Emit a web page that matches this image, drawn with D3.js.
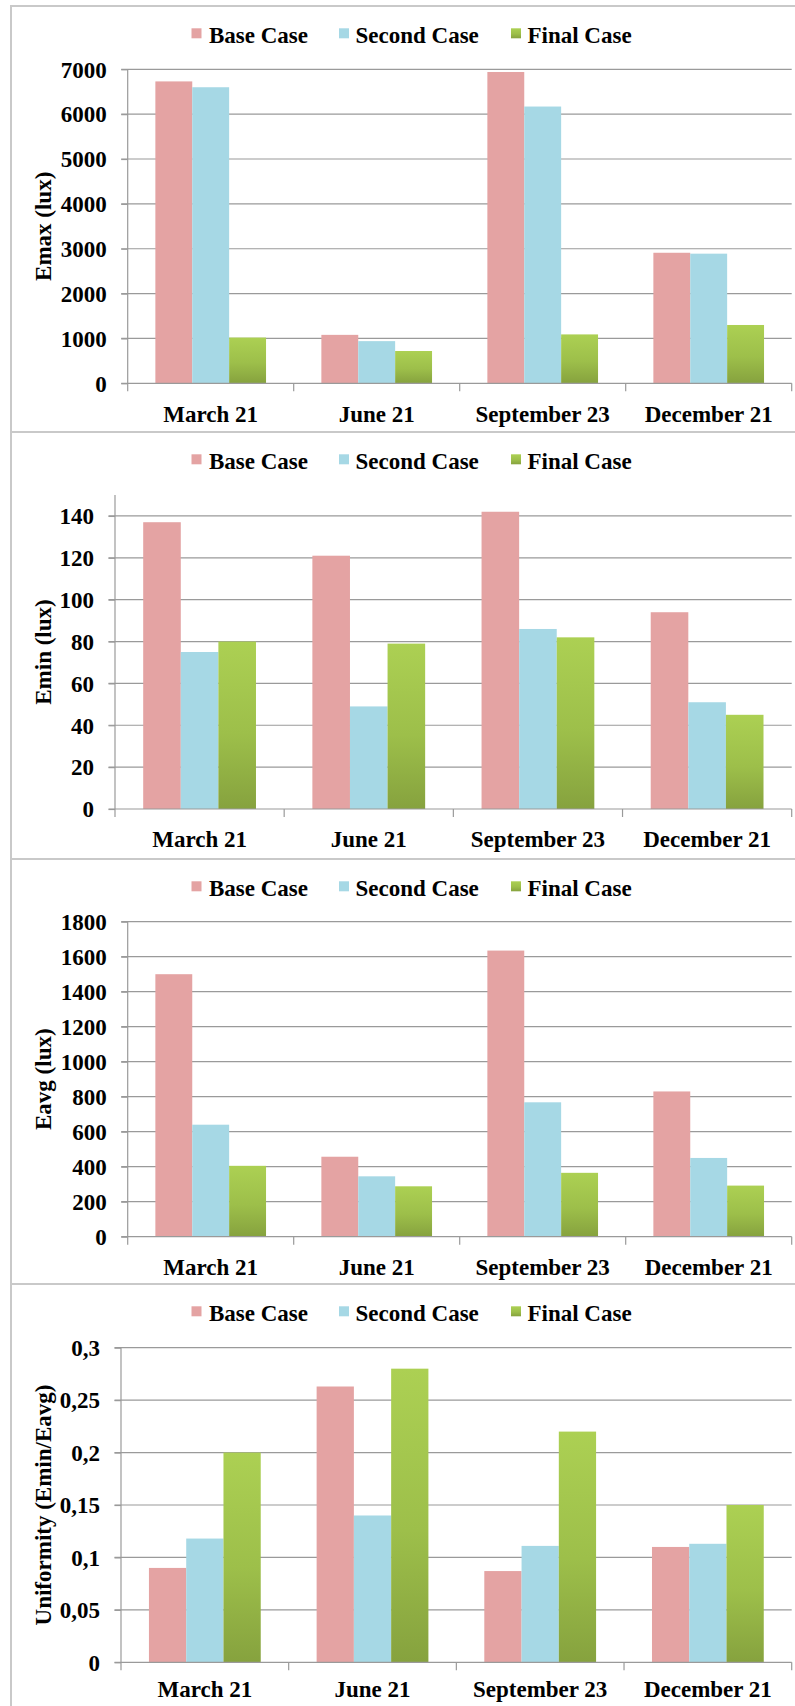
<!DOCTYPE html>
<html>
<head>
<meta charset="utf-8">
<script src="https://cdn.jsdelivr.net/npm/d3@7"></script>
<style>
  html, body { margin: 0; padding: 0; background: #fff; }
  svg { display: block; }
  text { font-family: "Liberation Serif", "Times New Roman", serif; font-weight: bold; fill: #000; }
</style>
</head>
<body>
<svg id="chart" width="795" height="1706"></svg>
<script>
// Daylight study: illuminance results per date for three design cases
const categories = ["March 21", "June 21", "September 23", "December 21"];
const seriesNames = ["Base Case", "Second Case", "Final Case"];

const emaxBase   = [6730, 1080, 6940, 2910];
const emaxSecond = [6600, 940, 6170, 2890];
const emaxFinal  = [1020, 720, 1090, 1300];

const eminBase   = [137, 121, 142, 94];
const eminSecond = [75, 49, 86, 51];
const eminFinal  = [80, 79, 82, 45];

const eavgBase   = [1500, 457, 1635, 830];
const eavgSecond = [640, 345, 768, 450];
const eavgFinal  = [405, 288, 365, 292];

const uniBase    = [0.09, 0.263, 0.087, 0.11];
const uniSecond  = [0.118, 0.14, 0.111, 0.113];
const uniFinal   = [0.2, 0.28, 0.22, 0.15];

const emaxTicks = [0, 1000, 2000, 3000, 4000, 5000, 6000, 7000];
const eminTicks = [0, 20, 40, 60, 80, 100, 120, 140];
const eavgTicks = [0, 200, 400, 600, 800, 1000, 1200, 1400, 1600, 1800];
const uniTicks  = [0, 0.05, 0.1, 0.15, 0.2, 0.25, 0.3];
const uniTickLabels = ["0", "0,05", "0,1", "0,15", "0,2", "0,25", "0,3"];

const svg = d3.select("#chart");

// green gradient used by the "Final Case" bars
const defs = svg.append("defs");
const grad = defs.append("linearGradient")
  .attr("id", "greenGrad").attr("x1", 0).attr("y1", 0).attr("x2", 0).attr("y2", 1);
grad.append("stop").attr("offset", "0%").attr("stop-color", "#acd053");
grad.append("stop").attr("offset", "55%").attr("stop-color", "#9dbf4a");
grad.append("stop").attr("offset", "100%").attr("stop-color", "#86a23e");

const fills = ["#e4a3a3", "#a6d8e5", "url(#greenGrad)"];

const panels = [
  { top: 6,    bottom: 432,  axisX: 127.7, yTop: 69.3,   yBottom: 383.3,  domain: [0, 7000],
    ticks: emaxTicks, tickFmt: d => String(d), title: "Emax (lux)",
    data: [emaxBase, emaxSecond, emaxFinal], labelDy: 38.4 },
  { top: 432,  bottom: 859,  axisX: 115,   yTop: 495,    yBottom: 809,    domain: [0, 150],
    ticks: eminTicks, tickFmt: d => String(d), title: "Emin (lux)",
    data: [eminBase, eminSecond, eminFinal], labelDy: 37.7 },
  { top: 859,  bottom: 1284, axisX: 127.7, yTop: 921.7,  yBottom: 1236.7, domain: [0, 1800],
    ticks: eavgTicks, tickFmt: d => String(d), title: "Eavg (lux)",
    data: [eavgBase, eavgSecond, eavgFinal], labelDy: 38.3 },
  { top: 1284, bottom: 1720, axisX: 121,   yTop: 1347.7, yBottom: 1662.3, domain: [0, 0.3],
    ticks: uniTicks, tickFmt: (d, i) => uniTickLabels[i], title: "Uniformity (Emin/Eavg)",
    data: [uniBase, uniSecond, uniFinal], labelDy: 34.4 }
];

const plotRight = 791.7;
const legendItems = [
  { marker: 191.5, text: 209 },
  { marker: 339,   text: 355.5 },
  { marker: 511,   text: 527.5 }
];

panels.forEach(p => {
  const g = svg.append("g");

  // panel frame (left and top edges)
  g.append("rect")
    .attr("x", 11).attr("y", p.top)
    .attr("width", 820).attr("height", p.bottom - p.top)
    .attr("fill", "none").attr("stroke", "#c9c9c9").attr("stroke-width", 2);

  const y = d3.scaleLinear().domain(p.domain).range([p.yBottom, p.yTop]);
  const x = d3.scaleBand().domain(categories).range([p.axisX, plotRight]).padding(0);
  const step = x.bandwidth();
  const xs = d3.scaleBand().domain(seriesNames).range([step / 6, step * 5 / 6]).padding(0);

  // horizontal gridlines with short ticks on the left
  g.append("g")
    .selectAll("line.grid")
    .data(p.ticks.filter(t => t !== 0))
    .join("line")
    .attr("x1", p.axisX - 6.5).attr("x2", plotRight)
    .attr("y1", d => y(d)).attr("y2", d => y(d))
    .attr("stroke", "#9a9a9a").attr("stroke-width", 1.2);

  // bars
  seriesNames.forEach((s, si) => {
    g.append("g")
      .selectAll("rect")
      .data(p.data[si])
      .join("rect")
      .attr("x", (d, i) => x(categories[i]) + xs(s))
      .attr("y", d => y(d))
      .attr("width", xs.bandwidth())
      .attr("height", d => y(0) - y(d))
      .attr("fill", fills[si]);
  });

  // y axis
  const yAxis = d3.axisLeft(y).tickValues(p.ticks).tickFormat(p.tickFmt)
    .tickSize(6.5).tickPadding(14.5);
  const ya = g.append("g").attr("transform", `translate(${p.axisX},0)`).call(yAxis);
  ya.select(".domain").attr("stroke", "#9a9a9a").attr("stroke-width", 1.2)
    .attr("d", `M0,${p.yTop}V${p.yBottom}`);
  ya.selectAll(".tick line").attr("stroke", "#9a9a9a").attr("stroke-width", 1.2);
  ya.selectAll(".tick text")
    .attr("font-size", 23).attr("font-family", "Liberation Serif, serif")
    .attr("font-weight", "bold").attr("fill", "#000").attr("dy", "0.34em");

  // x axis line with category boundary ticks
  g.append("line")
    .attr("x1", p.axisX - 6.5).attr("x2", plotRight)
    .attr("y1", p.yBottom).attr("y2", p.yBottom)
    .attr("stroke", "#9a9a9a").attr("stroke-width", 1.2);
  const bounds = categories.map(c => x(c)).concat([plotRight]);
  g.append("g").selectAll("line")
    .data(bounds)
    .join("line")
    .attr("x1", d => d).attr("x2", d => d)
    .attr("y1", p.yBottom).attr("y2", p.yBottom + 8)
    .attr("stroke", "#9a9a9a").attr("stroke-width", 1.2);

  // category labels
  g.append("g").selectAll("text")
    .data(categories)
    .join("text")
    .attr("x", d => x(d) + step / 2)
    .attr("y", p.yBottom + p.labelDy)
    .attr("text-anchor", "middle")
    .attr("font-size", 23)
    .text(d => d);

  // y axis title
  g.append("text")
    .attr("transform", `translate(51,${(p.yTop + p.yBottom) / 2}) rotate(-90)`)
    .attr("text-anchor", "middle")
    .attr("font-size", 23)
    .text(p.title);

  // legend
  const legY = p.top + 37.3;
  const leg = g.append("g");
  seriesNames.forEach((s, si) => {
    leg.append("rect")
      .attr("x", legendItems[si].marker).attr("y", legY - 15)
      .attr("width", 10).attr("height", 10)
      .attr("fill", fills[si]);
    leg.append("text")
      .attr("x", legendItems[si].text).attr("y", legY)
      .attr("font-size", 23)
      .text(s);
  });
});
</script>
</body>
</html>
